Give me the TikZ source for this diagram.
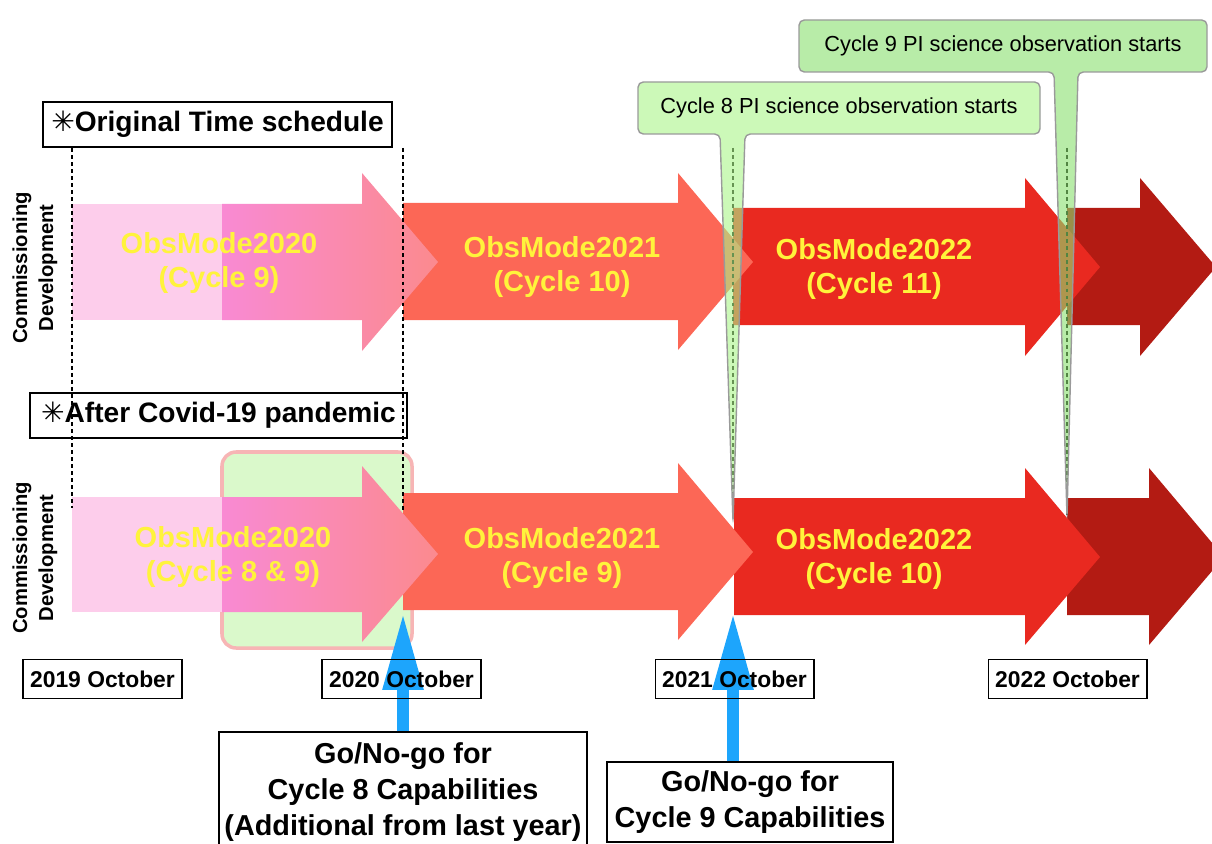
\documentclass[tikz,border=0pt]{standalone}
\usepackage{fontspec}
\setmainfont{Liberation Sans}
\newfontfamily\symfont{DejaVu Sans}
\usetikzlibrary{arrows.meta}
\usetikzlibrary{positioning}

\definecolor{softpink}{HTML}{FDCDEB}
\definecolor{gradpink}{HTML}{F98AD3}
\definecolor{gradsalmon}{HTML}{FB8A8E}
\definecolor{tomatored}{HTML}{FC6756}
\definecolor{brightred}{HTML}{E92920}
\definecolor{darkred}{HTML}{B31B13}
\definecolor{modeyellow}{HTML}{FFF33B}
\definecolor{calloutA}{HTML}{AAF589}
\definecolor{calloutB}{HTML}{89DF6E}
\definecolor{calloutgray}{HTML}{9A9A9A}
\definecolor{shiftgreen}{HTML}{DAF9CB}
\definecolor{shiftborder}{HTML}{F7B5B5}
\definecolor{goblue}{HTML}{1DA5FC}

\begin{document}
\begin{tikzpicture}[x=0.02cm,y=-0.02cm,
    hdr/.style={draw, line width=0.7pt, inner sep=0pt, minimum height=0.9cm, font=\fontsize{16}{19}\selectfont\bfseries},
    datebox/.style={draw, line width=0.6pt, inner sep=0pt, minimum width=3.18cm, minimum height=0.78cm, font=\fontsize{13}{15}\selectfont\bfseries},
    modetext/.style={text=modeyellow, align=center, font=\fontsize{16.5}{19.8}\selectfont\bfseries},
    sidelabel/.style={rotate=90, align=center, font=\fontsize{11.5}{14.8}\selectfont\bfseries},
    gonogo/.style={draw, line width=0.8pt, inner sep=0pt, align=center, font=\fontsize{16.4}{20.5}\selectfont\bfseries},
    callout/.style={draw=calloutgray, line width=0.8pt, rounded corners=3pt, fill opacity=0.6},
    calltext/.style={font=\fontsize{12.4}{15}\selectfont},
    guideline/.style={dash pattern=on 2.2pt off 1.8pt, line width=1.1pt},
    golink/.style={draw=goblue, line width=0.24cm, -{Triangle[length=1.54cm, width=0.76cm]}}]
    \useasboundingbox (0,0) rectangle (1212,844);

    % shifted commissioning period
    \filldraw[fill=shiftgreen, draw=shiftborder, line width=2pt, rounded corners=8pt] (222,452) rectangle (412,648);

    % original time schedule
    \fill[darkred] (1067,208) -- (1140,208) -- (1140,178) -- (1216,267) -- (1140,356) -- (1140,325) -- (1067,325) -- cycle;
    \fill[brightred] (733,208) -- (1025,208) -- (1025,178) -- (1100,267) -- (1025,356) -- (1025,325) -- (733,325) -- cycle;
    \fill[tomatored] (403,203) -- (678,203) -- (678,173) -- (753,262) -- (678,350) -- (678,320) -- (403,320) -- cycle;
    \fill[softpink] (72,204) rectangle (222,320);
    \shade[left color=gradpink, right color=gradsalmon] (222,204) -- (362,204) -- (362,173) -- (438,262) -- (362,351) -- (362,320) -- (222,320) -- cycle;

    % after covid-19
    \fill[darkred] (1067,498) -- (1149,498) -- (1149,468) -- (1224,557) -- (1149,645) -- (1149,615) -- (1067,615) -- cycle;
    \fill[brightred] (734,498) -- (1025,498) -- (1025,468) -- (1100,557) -- (1025,645) -- (1025,615) -- (734,615) -- cycle;
    \fill[tomatored] (403,493) -- (678,493) -- (678,463) -- (753,552) -- (678,640) -- (678,610) -- (403,610) -- cycle;
    \fill[softpink] (72,497) rectangle (222,612);
    \shade[left color=gradpink, right color=gradsalmon] (222,497) -- (362,497) -- (362,466) -- (438,554) -- (362,642) -- (362,612) -- (222,612) -- cycle;

    \node[modetext] (m20a) at (219,263) {ObsMode2020\\(Cycle 9)};
    \node[modetext] (m21a) at (562,267) {ObsMode2021\\(Cycle 10)};
    \node[modetext] (m22a) at (874,269) {ObsMode2022\\(Cycle 11)};
    \node[modetext] (m20b) at (233,557) {ObsMode2020\\(Cycle 8 \& 9)};
    \node[modetext] (m21b) at (562,558) {ObsMode2021\\(Cycle 9)};
    \node[modetext] (m22b) at (874,559) {ObsMode2022\\(Cycle 10)};

    \node[sidelabel] (sidea) at (35,268) {Commissioning\\Development};
    \node[sidelabel] (sideb) at (35,558) {Commissioning\\Development};

    \node[hdr, minimum width=6.98cm] (orig) at (217.5,124.5) {{\symfont ✳}Original Time schedule};
    \node[hdr, minimum width=7.54cm] (covid) at (218.5,415.5) {{\symfont ✳}After Covid-19 pandemic};

    % year boundaries
    \draw[guideline] (72,148) -- (72,508);
    \draw[guideline] (403,148) -- (403,510);
    \draw[guideline] (733,148) -- (733,520);
    \draw[guideline] (1067,148) -- (1067,515);

    % PI observation callouts
    \filldraw[callout, fill=calloutA] (638,82) -- (1040,82) -- (1040,134) -- (745,134) -- (733,522) -- (720,134) -- (638,134) -- cycle;
    \node[calltext] (obs8) at (839,108) {Cycle 8 PI science observation starts};
    \filldraw[callout, fill=calloutB] (799,20) -- (1207,20) -- (1207,72) -- (1078,72) -- (1067,517) -- (1054,72) -- (799,72) -- cycle;
    \node[calltext] (obs9) at (1003,46) {Cycle 9 PI science observation starts};

    % go/no-go decisions
    \node[gonogo, minimum width=7.36cm, minimum height=2.4cm] (go20) at (403,792) {Go/No-go for\\Cycle 8 Capabilities\\(Additional from last year)};
    \node[gonogo, minimum width=5.72cm, minimum height=1.6cm] (go21) at (750,802) {Go/No-go for\\Cycle 9 Capabilities};
    \coordinate (tip20) at (403,613);
    \coordinate (tip21) at (733,613);
    \draw[golink] (go20.north) -- (tip20);
    \draw[golink] (tip21 |- go21.north) -- (tip21);

    \node[datebox] (y19) at (102.5,679) {2019 October};
    \node[datebox] (y20) at (401.5,679) {2020 October};
    \node[datebox] (y21) at (734.5,679) {2021 October};
    \node[datebox] (y22) at (1067.5,679) {2022 October};
\end{tikzpicture}
\end{document}
